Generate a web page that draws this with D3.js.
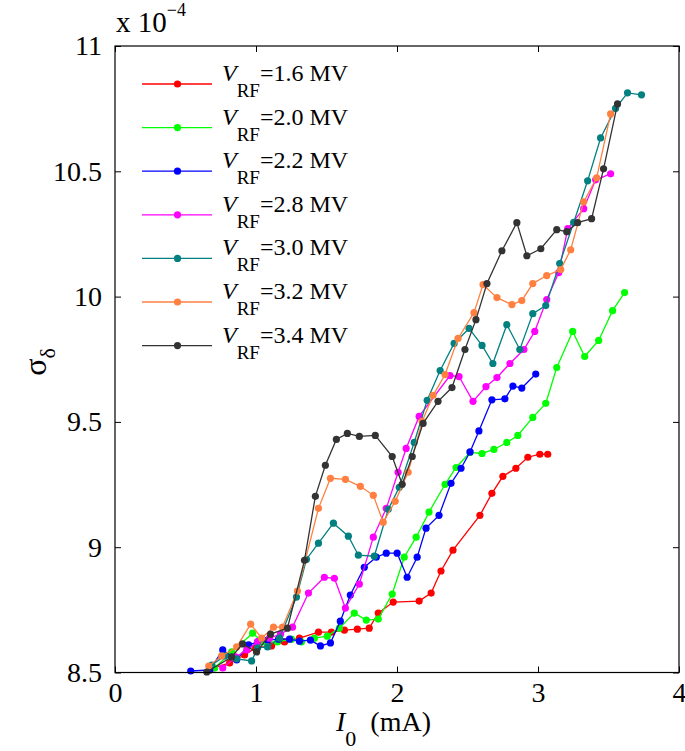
<!DOCTYPE html>
<html>
<head>
<meta charset="utf-8">
<script src="https://cdn.jsdelivr.net/npm/d3@7/dist/d3.min.js"></script>
<style>
  html, body { margin: 0; padding: 0; background: #fff; }
  svg { display: block; }
  text { font-family: "Liberation Serif", "Times New Roman", serif; fill: #000; }
</style>
</head>
<body>
<svg id="chart" width="685" height="751"></svg>
<script>
// ---------- data (sigma_delta in units of 1e-4, I0 in mA) ----------
const seriesNames = ["1.6 MV", "2.0 MV", "2.2 MV", "2.8 MV", "3.0 MV", "3.2 MV", "3.4 MV"];
const seriesColors = ["#ff0000", "#00ff00", "#0000ff", "#ff00ff", "#008080", "#ff8040", "#333333"];

const i16 = [0.700,0.813,0.919,0.997,1.110,1.202,1.308,1.443,1.535,1.627,1.719,1.803,1.867,1.973,2.157,2.242,2.312,2.397,2.588,2.673,2.751,2.843,2.928,3.013,3.069];
const s16 = [8.518,8.538,8.570,8.598,8.606,8.622,8.637,8.661,8.661,8.669,8.673,8.677,8.737,8.781,8.785,8.817,8.905,8.988,9.127,9.215,9.283,9.315,9.359,9.371,9.371];

const i20 = [0.707,0.827,0.976,1.047,1.153,1.252,1.322,1.414,1.506,1.591,1.697,1.782,1.867,1.966,2.051,2.136,2.227,2.341,2.419,2.518,2.603,2.687,2.779,2.857,2.963,3.055,3.133,3.246,3.331,3.430,3.529,3.614];
const s20 = [8.518,8.582,8.657,8.622,8.622,8.633,8.622,8.637,8.645,8.677,8.737,8.709,8.713,8.813,8.960,9.040,9.140,9.251,9.318,9.378,9.374,9.390,9.418,9.446,9.518,9.574,9.717,9.861,9.761,9.825,9.944,10.016];

const i22 = [0.537,0.672,0.764,0.863,0.948,1.011,1.082,1.160,1.238,1.308,1.386,1.457,1.528,1.598,1.669,1.768,1.853,1.924,2.001,2.072,2.143,2.206,2.298,2.383,2.454,2.518,2.581,2.673,2.765,2.822,2.885,2.984];
const s22 = [8.506,8.510,8.590,8.550,8.610,8.622,8.629,8.633,8.633,8.625,8.629,8.606,8.618,8.705,8.809,8.920,8.960,8.976,8.976,8.880,8.960,9.076,9.127,9.255,9.315,9.380,9.464,9.588,9.592,9.643,9.635,9.691];

const i28 = [0.764,0.856,0.934,1.011,1.096,1.174,1.259,1.372,1.485,1.556,1.634,1.733,1.832,1.924,2.008,2.065,2.157,2.376,2.440,2.539,2.631,2.709,2.801,2.900,2.977,3.062,3.147,3.211,3.324,3.409,3.515];
const s28 = [8.518,8.562,8.590,8.622,8.637,8.653,8.681,8.817,8.880,8.876,8.757,8.853,9.040,9.155,9.299,9.394,9.522,9.685,9.681,9.582,9.641,9.677,9.733,9.789,9.861,9.988,10.096,10.271,10.351,10.466,10.490];

const i30 = [0.686,0.778,0.863,0.969,1.011,1.082,1.167,1.287,1.358,1.443,1.549,1.655,1.726,1.839,1.938,2.016,2.122,2.214,2.306,2.405,2.511,2.603,2.680,2.779,2.871,2.963,3.055,3.154,3.253,3.352,3.444,3.550,3.635,3.734];
const s30 = [8.530,8.566,8.554,8.546,8.598,8.602,8.637,8.801,8.952,9.016,9.096,9.044,8.968,8.964,9.151,9.239,9.418,9.586,9.705,9.813,9.873,9.805,9.733,9.888,9.789,9.932,9.964,10.132,10.296,10.462,10.633,10.751,10.813,10.805];

const i32 = [0.665,0.757,0.863,0.962,1.040,1.124,1.188,1.294,1.443,1.528,1.634,1.740,1.832,1.902,1.987,2.079,2.178,2.256,2.341,2.433,2.546,2.610,2.709,2.815,2.885,2.963,3.062,3.161,3.232,3.324,3.416,3.515];
const s32 = [8.526,8.566,8.602,8.693,8.637,8.681,8.681,8.825,9.155,9.275,9.271,9.243,9.207,9.100,9.183,9.299,9.502,9.606,9.689,9.833,9.936,10.048,9.996,9.968,9.984,10.052,10.084,10.108,10.187,10.378,10.474,10.729];

const i34 = [0.651,0.827,0.905,1.004,1.103,1.223,1.344,1.421,1.492,1.570,1.648,1.733,1.846,1.966,2.037,2.108,2.185,2.291,2.390,2.482,2.560,2.638,2.744,2.850,2.921,3.020,3.133,3.204,3.281,3.380,3.465,3.564];
const s34 = [8.502,8.562,8.614,8.582,8.653,8.677,8.948,9.203,9.327,9.430,9.454,9.442,9.446,9.362,9.251,9.362,9.494,9.582,9.637,9.789,9.908,10.052,10.183,10.295,10.163,10.191,10.267,10.259,10.295,10.311,10.510,10.769];

const xTicks = [0, 1, 2, 3, 4];
const xTickLabels = ["0", "1", "2", "3", "4"];
const yTicks = [8.5, 9, 9.5, 10, 10.5, 11];
const yTickLabels = ["8.5", "9", "9.5", "10", "10.5", "11"];

const seriesX = [i16, i20, i22, i28, i30, i32, i34];
const seriesY = [s16, s20, s22, s28, s30, s32, s34];
const series = seriesNames.map((name, k) => ({
  name, color: seriesColors[k],
  points: seriesX[k].map((x, j) => ({ x, y: seriesY[k][j] }))
}));

// ---------- layout ----------
const L = 115, R = 679, T = 46, B = 672.5;
const svg = d3.select("#chart");
const x = d3.scaleLinear().domain([0, 4]).range([L, R]);
const y = d3.scaleLinear().domain([8.5, 11]).range([B, T]);

// series
const line = d3.line().x(d => x(d.x)).y(d => y(d.y));
const plot = svg.append("g");
series.forEach(s => {
  const g = plot.append("g");
  g.append("path").attr("d", line(s.points))
    .attr("fill", "none").attr("stroke", s.color).attr("stroke-width", 1.3);
  g.selectAll("circle").data(s.points).join("circle")
    .attr("cx", d => x(d.x)).attr("cy", d => y(d.y)).attr("r", 3.6)
    .attr("fill", s.color);
});

// axes (ticks inward on all sides)
const fontTick = 28;
const gx = svg.append("g").attr("transform", `translate(0,${B})`)
  .call(d3.axisBottom(x).tickValues(xTicks).tickFormat((d, i) => xTickLabels[i])
    .tickSizeInner(-6).tickSizeOuter(0).tickPadding(10));
const gxt = svg.append("g").attr("transform", `translate(0,${T})`)
  .call(d3.axisTop(x).tickValues(xTicks).tickFormat("").tickSizeInner(-6).tickSizeOuter(0));
const gy = svg.append("g").attr("transform", `translate(${L},0)`)
  .call(d3.axisLeft(y).tickValues(yTicks).tickFormat((d, i) => yTickLabels[i])
    .tickSizeInner(-6).tickSizeOuter(0).tickPadding(13));
const gyr = svg.append("g").attr("transform", `translate(${R},0)`)
  .call(d3.axisRight(y).tickValues(yTicks).tickFormat("").tickSizeInner(-6).tickSizeOuter(0));
[gx, gxt, gy, gyr].forEach(g => {
  g.select(".domain").remove();
  g.selectAll("line").attr("stroke", "#000").attr("stroke-width", 1);
  g.selectAll("text").attr("font-family", "Liberation Serif, serif")
    .attr("font-size", fontTick).attr("fill", "#000");
});

// frame
svg.append("rect").attr("x", L).attr("y", T).attr("width", R - L).attr("height", B - T)
  .attr("fill", "none").attr("stroke", "#000").attr("stroke-width", 1.2);

// exponent label
const ex = svg.append("text").attr("x", 116).attr("y", 32).attr("font-size", 29);
ex.append("tspan").text("x 10");
ex.append("tspan").attr("font-size", 18).attr("dy", -16).text("\u22124");

// axis labels
const xl = svg.append("text").attr("x", 336).attr("y", 731).attr("font-size", 28);
xl.append("tspan").attr("font-style", "italic").text("I");
xl.append("tspan").attr("font-size", 22).attr("dy", 15).text("0");
xl.append("tspan").attr("dy", -15).attr("xml:space", "preserve").text("\u00a0\u00a0(mA)");

const yl = svg.append("text").attr("transform", "translate(46,362) rotate(-90)")
  .attr("text-anchor", "middle").attr("font-size", 32);
yl.append("tspan").text("\u03c3");
yl.append("tspan").attr("font-size", 22).attr("dy", 9).text("\u03b4");

// legend
const legY0 = 84, legDy = 43.6;
series.forEach((s, k) => {
  const yy = legY0 + k * legDy;
  const g = svg.append("g");
  g.append("line").attr("x1", 142).attr("x2", 212).attr("y1", yy).attr("y2", yy)
    .attr("stroke", s.color).attr("stroke-width", 1.3);
  g.append("circle").attr("cx", 177.5).attr("cy", yy).attr("r", 3.6).attr("fill", s.color);
  const t = g.append("text").attr("x", 222).attr("y", yy - 3).attr("font-size", 24);
  t.append("tspan").attr("font-style", "italic").text("V");
  t.append("tspan").attr("font-size", 19).attr("dy", 16).text("RF");
  t.append("tspan").attr("dy", -16).text("=" + s.name);
});
</script>
</body>
</html>
